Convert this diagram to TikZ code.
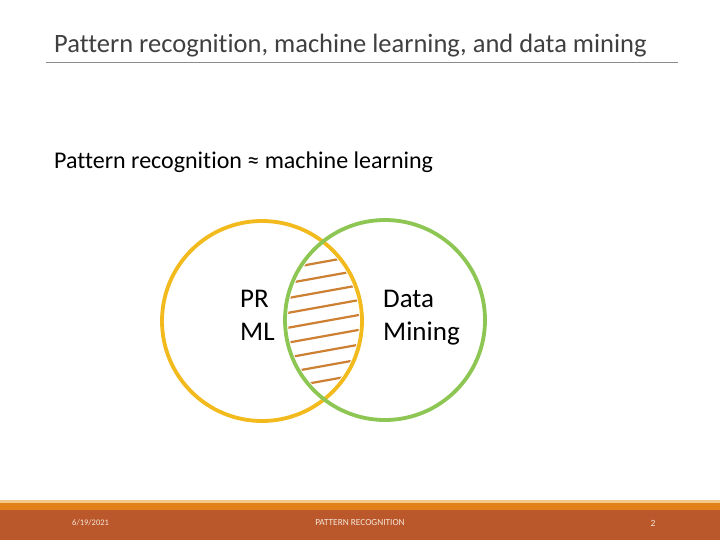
\documentclass[tikz,border=0pt]{standalone}
\usepackage{fontspec}
\setmainfont[Ligatures={NoCommon}]{Carlito}
\definecolor{titlegray}{HTML}{404040}
\definecolor{rulegray}{HTML}{8C8C8C}
\definecolor{prorange}{HTML}{F2BA1C}
\definecolor{dmgreen}{HTML}{8DC653}
\definecolor{hatchc}{HTML}{CD7F32}
\definecolor{stripeA}{HTML}{F3C98A}
\definecolor{stripeB}{HTML}{E2801A}
\definecolor{footbrown}{HTML}{BA582C}
\definecolor{foottext}{HTML}{F5E6D8}
\begin{document}
\begin{tikzpicture}[x=1pt,y=-1pt,
  venn/.style={circle, draw, line width=3.8pt, minimum size=200pt, inner sep=0pt},
  hatchline/.style={draw=hatchc, line width=2.2pt},
  bigtext/.style={font=\fontsize{27}{29}\selectfont, inner sep=0pt, anchor=base west},
  foottxt/.style={font=\fontsize{8.5}{9}\selectfont, text=foottext, inner sep=0pt}]
\useasboundingbox (0,0) rectangle (720,540);
\fill[white] (0,0) rectangle (720,540);
% title
\node[font=\fontsize{26.5}{30}\selectfont, text=titlegray, inner sep=0pt, anchor=base west] (title) at (54,53) {Pattern recognition, machine learning, and data mining};
\coordinate (ruleL) at (46,62);
\coordinate (ruleR) at (678,62);
\draw[rulegray, line width=0.9pt] (ruleL) -- (ruleR);
% body
\node[font=\fontsize{24}{27}\selectfont, inner sep=0pt, anchor=base west] (body) at (54,169) {Pattern recognition ≈ machine learning};
% hatch
\begin{scope}
\clip (262,321) circle (97pt);
\clip (385,320) circle (97pt);
\foreach \yy in {262,276.9,291.8,306.6,321.5,336.4,351.2,366.1,381} {
  \draw[hatchline] (270,\yy+9.5) -- (376,\yy-9.6);
}
\end{scope}
% circles
\node[venn, draw=prorange] (prc) at (262,321) {};
\node[venn, draw=dmgreen] (dmc) at (385,320) {};
% labels
\node[bigtext] (pr) at (240,307) {PR};
\node[bigtext] (ml) at (240,340) {ML};
\node[bigtext] (data) at (383,307) {Data};
\node[bigtext] (mining) at (383,340) {Mining};
% footer
\fill[stripeA] (0,500) rectangle (720,503);
\fill[stripeB] (0,503) rectangle (720,510);
\fill[footbrown] (0,510) rectangle (720,540);
\node[foottxt, anchor=west] (date) at (72,523) {6/19/2021};
\node[foottxt, font=\fontsize{9.3}{10}\selectfont] (foot) at (360,523) {PATTERN RECOGNITION};
\node[foottxt, font=\fontsize{9.5}{10}\selectfont] (page) at (653,523.5) {2};
\end{tikzpicture}
\end{document}
